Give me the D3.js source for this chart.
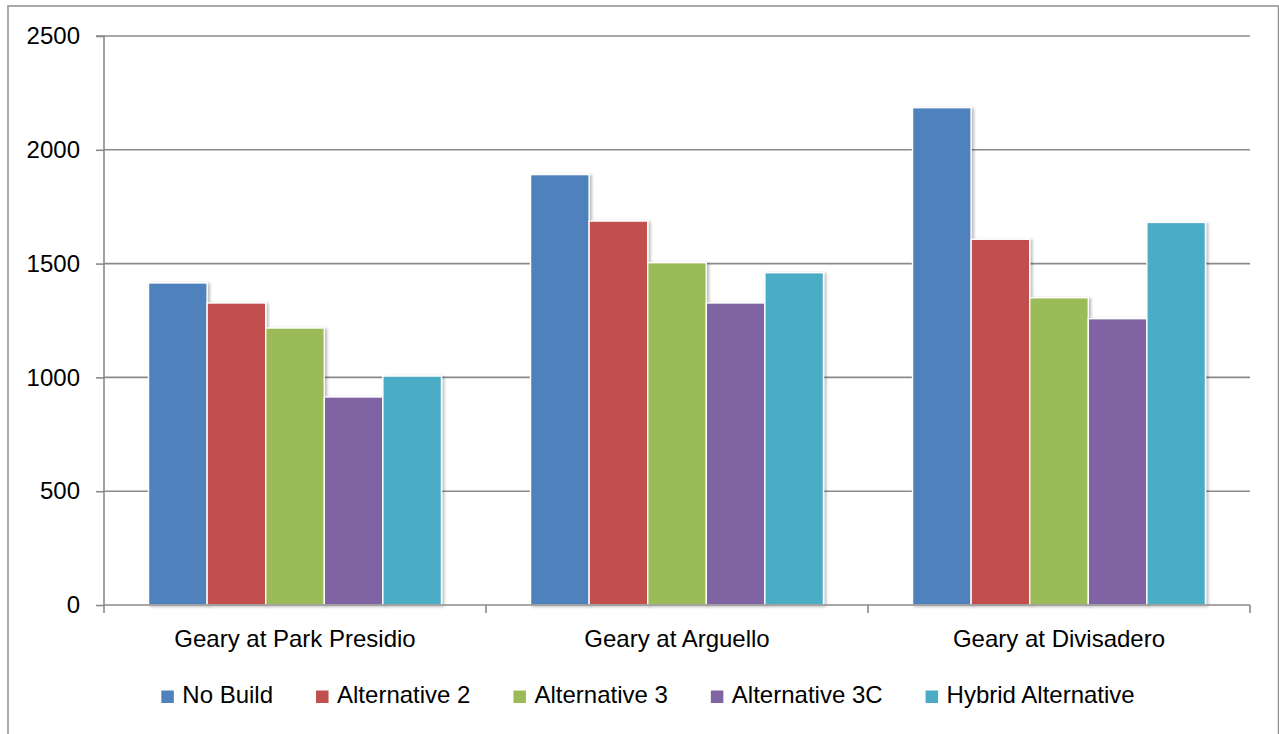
<!DOCTYPE html>
<html>
<head>
<meta charset="utf-8">
<script src="https://cdn.jsdelivr.net/npm/d3@7"></script>
<style>
  html, body { margin: 0; padding: 0; background: #fff; }
  svg { display: block; font-family: "Liberation Sans", Arial, sans-serif; }
</style>
</head>
<body>
<svg id="chart" width="1279" height="734"></svg>
<script>
const categories = ["Geary at Park Presidio", "Geary at Arguello", "Geary at Divisadero"];
const seriesNames = ["No Build", "Alternative 2", "Alternative 3", "Alternative 3C", "Hybrid Alternative"];
const seriesColors = ["#4F81BD", "#C0504D", "#9BBB59", "#8064A2", "#4BACC6"];
const noBuild      = [1415, 1891, 2185];
const alternative2 = [1327, 1687, 1607];
const alternative3 = [1217, 1504, 1350];
const alternative3C = [914, 1327, 1258];
const hybrid       = [1006, 1460, 1681];
const yTicks = [0, 500, 1000, 1500, 2000, 2500];

const seriesValues = [noBuild, alternative2, alternative3, alternative3C, hybrid];

const svg = d3.select("#chart");
const plot = { left: 104, right: 1250, top: 36, bottom: 605 };

const defs = svg.append("defs");
const f = defs.append("filter").attr("id", "shadow").attr("x", "-20%").attr("y", "-5%").attr("width", "150%").attr("height", "120%");
f.append("feDropShadow").attr("dx", 2).attr("dy", 1).attr("stdDeviation", 1.6).attr("flood-color", "#000").attr("flood-opacity", 0.28);

// outer border
svg.append("rect").attr("x", 8).attr("y", 6).attr("width", 1270.5).attr("height", 740)
  .attr("fill", "none").attr("stroke", "#8e8e8e").attr("stroke-width", 1.5);

const x0 = d3.scaleBand().domain(categories).range([plot.left, plot.right]).paddingInner(0).paddingOuter(0);
const x1 = d3.scaleBand().domain(seriesNames).range([0, x0.bandwidth()]).paddingInner(0).paddingOuter(0.76);
const y = d3.scaleLinear().domain([0, 2500]).range([plot.bottom, plot.top]);

// gridlines
svg.append("g").selectAll("line").data(yTicks.filter(d => d > 0)).join("line")
  .attr("x1", plot.left).attr("x2", plot.right)
  .attr("y1", d => y(d)).attr("y2", d => y(d))
  .attr("stroke", "#8a8a8a").attr("stroke-width", 1.6);

// bars
const groups = svg.append("g").selectAll("g").data(categories).join("g")
  .attr("transform", c => `translate(${x0(c)},0)`);
groups.selectAll("rect").data((c, ci) => seriesNames.map((s, si) => ({ s, si, v: seriesValues[si][ci] })))
  .join("rect")
  .attr("x", d => x1(d.s))
  .attr("width", x1.bandwidth())
  .attr("y", d => y(d.v))
  .attr("height", d => y(0) - y(d.v))
  .attr("fill", d => seriesColors[d.si])
  .attr("stroke", "#fff").attr("stroke-width", 1.4)
  .attr("filter", "url(#shadow)");

// y axis
const yAxis = d3.axisLeft(y).tickValues(yTicks).tickSize(8).tickPadding(16).tickFormat(d3.format("d"));
const gy = svg.append("g").attr("transform", `translate(${plot.left},0)`).call(yAxis);
gy.select(".domain").attr("stroke", "#8a8a8a").attr("stroke-width", 1.6).attr("d", `M-8,${plot.top}H0V${plot.bottom}`);
gy.selectAll(".tick line").attr("stroke", "#8a8a8a").attr("stroke-width", 1.6);
gy.selectAll(".tick text").attr("font-size", 24).attr("fill", "#000").attr("font-family", "Liberation Sans, Arial, sans-serif");

// x axis
const xAxis = d3.axisBottom(x0).tickSize(0).tickPadding(0);
const gx = svg.append("g").attr("transform", `translate(0,${plot.bottom})`).call(xAxis);
gx.select(".domain").attr("stroke", "#8a8a8a").attr("stroke-width", 1.6).attr("d", `M${plot.left},0H${plot.right}`);
gx.selectAll(".tick text").attr("font-size", 24).attr("fill", "#000").attr("dy", null).attr("y", 42)
  .attr("font-family", "Liberation Sans, Arial, sans-serif");
// category boundary ticks
const bounds = categories.map(c => x0(c)).concat([plot.right]);
gx.append("g").selectAll("line").data(bounds).join("line")
  .attr("x1", d => d).attr("x2", d => d).attr("y1", 0).attr("y2", 8)
  .attr("stroke", "#8a8a8a").attr("stroke-width", 1.6);

// legend
const legend = svg.append("g");
const gap = 43;
let lx = 0;
const items = legend.selectAll("g").data(seriesNames).join("g");
items.append("rect").attr("width", 12.5).attr("height", 12.5).attr("y", -12.5).attr("fill", (d, i) => seriesColors[i]);
items.append("text").attr("x", 21).attr("y", 0).attr("font-size", 24).attr("fill", "#000").text(d => d);
items.each(function() {
  const g = d3.select(this);
  g.attr("transform", `translate(${lx},0)`);
  lx += 21 + g.select("text").node().getComputedTextLength() + gap;
});
const legendWidth = lx - gap;
legend.attr("transform", `translate(${648 - legendWidth / 2},703)`);
</script>
</body>
</html>
